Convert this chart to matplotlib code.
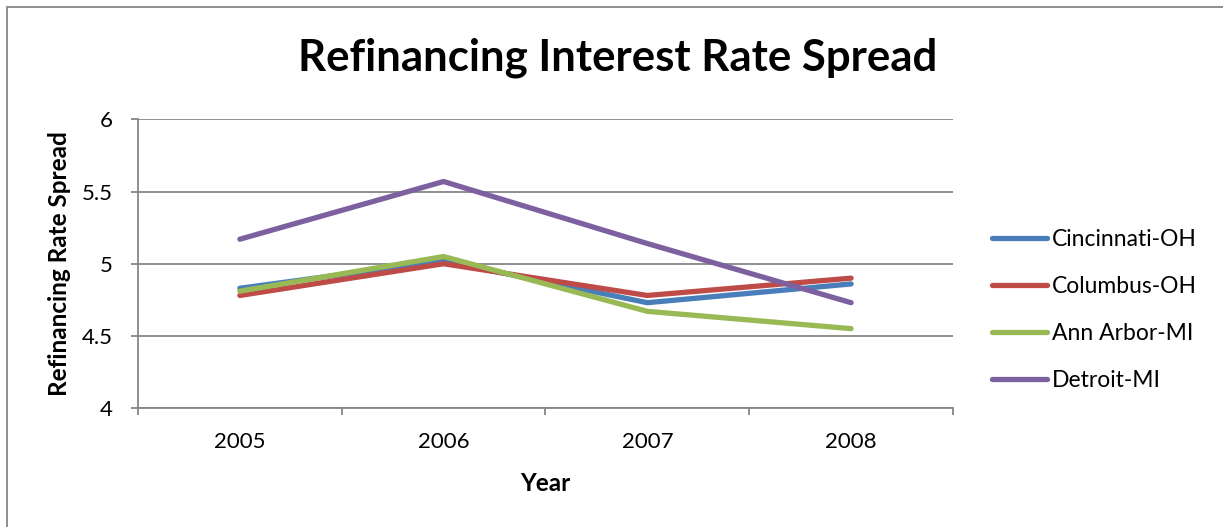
import matplotlib
matplotlib.use("Agg")
import numpy as np
import matplotlib.pyplot as plt
from matplotlib.patches import Rectangle

plt.rcParams['font.family'] = ['Lato', 'DejaVu Sans']

years = ['2005', '2006', '2007', '2008']
cincinnati = [4.83, 5.02, 4.73, 4.86]
columbus = [4.78, 5.00, 4.78, 4.90]
ann_arbor = [4.81, 5.05, 4.67, 4.55]
detroit = [5.17, 5.57, 5.14, 4.73]

series = [
    ('Cincinnati-OH', cincinnati, '#4A7EBB'),
    ('Columbus-OH', columbus, '#BE4B48'),
    ('Ann Arbor-MI', ann_arbor, '#98B954'),
    ('Detroit-MI', detroit, '#7D60A0'),
]

fig = plt.figure(figsize=(12.23, 5.27), dpi=100)
ax = fig.add_axes([0.1128, 0.2258, 0.6664, 0.5475])

x = np.arange(len(years))
for name, vals, col in series:
    ax.plot(x, vals, color=col, lw=3.8, solid_capstyle='round',
            solid_joinstyle='round', label=name)

ax.set_xlim(-0.5, len(years) - 0.5)
ax.set_ylim(4, 6)
ax.set_yticks([4, 4.5, 5, 5.5, 6])
ax.set_yticklabels(['4', '4.5', '5', '5.5', '6'])
ax.yaxis.grid(True, color='#868686', lw=1.3)
ax.set_axisbelow(True)

# category ticks sit between the years, labels centred on them
ax.set_xticks(np.arange(-0.5, len(years)))
ax.set_xticklabels([])
ax.set_xticks(x, minor=True)
ax.set_xticklabels(years, minor=True)
ax.tick_params(axis='x', which='major', length=5, color='#868686', width=1.3, direction='out')
ax.tick_params(axis='x', which='minor', length=0, pad=17, labelsize=16)
ax.tick_params(axis='y', length=5, color='#868686', width=1.3, labelsize=16, pad=13)

for s in ['top', 'right']:
    ax.spines[s].set_visible(False)
for s in ['left', 'bottom']:
    ax.spines[s].set_color('#868686')
    ax.spines[s].set_linewidth(1.3)

ax.set_xlabel('Year', fontsize=17.5, fontweight='bold', labelpad=15)
ax.set_ylabel('Refinancing Rate Spread', fontsize=17.5, fontweight='bold', labelpad=8)

fig.text(0.505, 0.89, 'Refinancing Interest Rate Spread', ha='center', va='center',
         fontsize=31.5, fontweight='bold')

fig.legend(loc='center left', bbox_to_anchor=(992 / 1223, 1 - 310 / 527), frameon=False,
           fontsize=16.5, handlelength=2.4, handletextpad=0.2, labelspacing=1.13,
           borderpad=0, borderaxespad=0)

# outer chart border
fig.patches.append(Rectangle((7 / 1223, -0.01), 1.02, 1 - 7 / 527 + 0.01,
                             transform=fig.transFigure, fill=False,
                             edgecolor='#868686', lw=1.3))

fig.savefig('out.png', dpi=100)
